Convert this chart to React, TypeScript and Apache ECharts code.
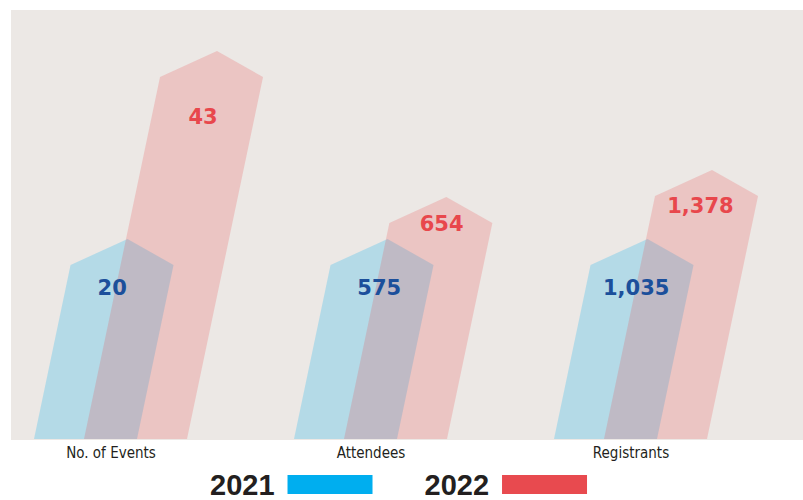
import React, { useEffect, useRef } from "react";
import * as echarts from "echarts";

// ---- data ----
const categories = ["No. of Events", "Attendees", "Registrants"];
const years = ["2021", "2022"];
const values2021 = [20, 575, 1035];
const values2022 = [43, 654, 1378];
// drawn height of each arrow-bar, as an index (2021 bars = 100)
const barIndex2021 = [100, 100, 100];
const barIndex2022 = [194, 121, 134.5];

// ---- styling / layout ----
const BG = "#ece8e5";
const BLUE = "#00AEEF";
const RED = "#E84A4F";
const BLUE_FILL = "rgba(0,174,239,0.235)";
const RED_FILL = "rgba(232,74,79,0.22)";
const BLUE_TEXT = "#1b4f9b";
const RED_TEXT = "#e8474c";
const DARK = "#231f20";
const BAR_W = 103; // px
const SLANT = 0.21; // px to the right per px of height
const CAP = 26; // px from shoulder to tip
const OFFSETS = [-77, -27]; // bar left edge relative to category centre
const LABEL_DROP = [
  [49, 49, 49],
  [66, 27, 36],
];
const LABEL_DX = [
  [-5, 2, -1],
  [0, 1, -4],
];

function geometry(api: any, si: number) {
  const idx = api.value(0);
  const h = api.value(1);
  const base = api.coord([idx, 0]);
  const top = api.coord([idx, h]);
  const b = base[1];
  const hp = b - top[1];
  const x0 = base[0] + OFFSETS[si];
  return { idx, b, hp, x0 };
}

function shapeRenderer(si: number, fill: string) {
  return (params: any, api: any) => {
    const { b, hp, x0 } = geometry(api, si);
    const sh = hp - CAP;
    const pts = [
      [x0, b],
      [x0 + BAR_W, b],
      [x0 + BAR_W + SLANT * sh, b - sh],
      [x0 + BAR_W / 2 + SLANT * hp, b - hp],
      [x0 + SLANT * sh, b - sh],
    ];
    return {
      type: "polygon",
      shape: { points: pts },
      style: { fill, stroke: null },
    };
  };
}

function labelRenderer(si: number, color: string) {
  return (params: any, api: any) => {
    const { idx, b, hp, x0 } = geometry(api, si);
    const d = LABEL_DROP[si][idx];
    const v = api.value(2);
    return {
      type: "text",
      x: x0 + BAR_W / 2 + SLANT * (hp - d) + LABEL_DX[si][idx],
      y: b - hp + d,
      style: {
        text: Number(v).toLocaleString("en-US"),
        fill: color,
        font: "bold 21px 'DejaVu Sans', sans-serif",
        align: "center",
        verticalAlign: "middle",
      },
    };
  };
}

export default function App() {
  const ref = useRef<HTMLDivElement>(null);
  useEffect(() => {
    if (!ref.current) return;
    document.body.style.margin = "0";
    const chart = echarts.init(ref.current, null, { renderer: "svg" });
    const d2021 = categories.map((_, i) => [i, barIndex2021[i], values2021[i]]);
    const d2022 = categories.map((_, i) => [i, barIndex2022[i], values2022[i]]);
    chart.setOption({
      animation: false,
      graphic: [
        {
          type: "rect",
          left: 11,
          top: 10,
          z: 0,
          silent: true,
          shape: { width: 792, height: 430 },
          style: { fill: BG },
        },
      ],
      grid: { left: 111, right: 172, top: 39, bottom: 61 },
      xAxis: {
        type: "value",
        min: 0,
        max: categories.length - 1,
        interval: 1,
        axisLine: { show: false },
        axisTick: { show: false },
        splitLine: { show: false },
        axisLabel: {
          margin: 6,
          color: DARK,
          showMinLabel: true,
          showMaxLabel: true,
          formatter: (v: number) => categories[v] ?? "",
          fontFamily: "'DejaVu Sans Condensed', 'Liberation Sans Narrow', sans-serif",
          fontSize: 15,
        },
      },
      yAxis: { type: "value", min: 0, max: 200, show: false },
      legend: {
        data: years.map((y, i) => ({
          name: y,
          itemStyle: { color: i === 0 ? BLUE : RED, opacity: 1 },
        })),
        left: 210,
        top: 470,
        padding: 0,
        align: "right",
        icon: "rect",
        itemWidth: 85,
        itemHeight: 19,
        itemGap: 52,
        selectedMode: false,
        textStyle: {
          color: DARK,
          fontSize: 29,
          lineHeight: 19,
          fontWeight: "bold",
          fontFamily: "'Liberation Sans', Arial, sans-serif",
          padding: [0, 8, 0, 0],
        },
      },
      series: [
        {
          name: years[0],
          type: "custom",
          z: 2,
          clip: false,
          itemStyle: { color: BLUE },
          renderItem: shapeRenderer(0, BLUE_FILL),
          data: d2021,
        },
        {
          name: years[1],
          type: "custom",
          z: 2,
          clip: false,
          itemStyle: { color: RED },
          renderItem: shapeRenderer(1, RED_FILL),
          data: d2022,
        },
        {
          name: "labels 2021",
          type: "custom",
          z: 5,
          clip: false,
          silent: true,
          renderItem: labelRenderer(0, BLUE_TEXT),
          data: d2021,
        },
        {
          name: "labels 2022",
          type: "custom",
          z: 5,
          clip: false,
          silent: true,
          renderItem: labelRenderer(1, RED_TEXT),
          data: d2022,
        },
      ],
    });
    return () => chart.dispose();
  }, []);
  return <div ref={ref} style={{ width: 803, height: 500 }} />;
}
